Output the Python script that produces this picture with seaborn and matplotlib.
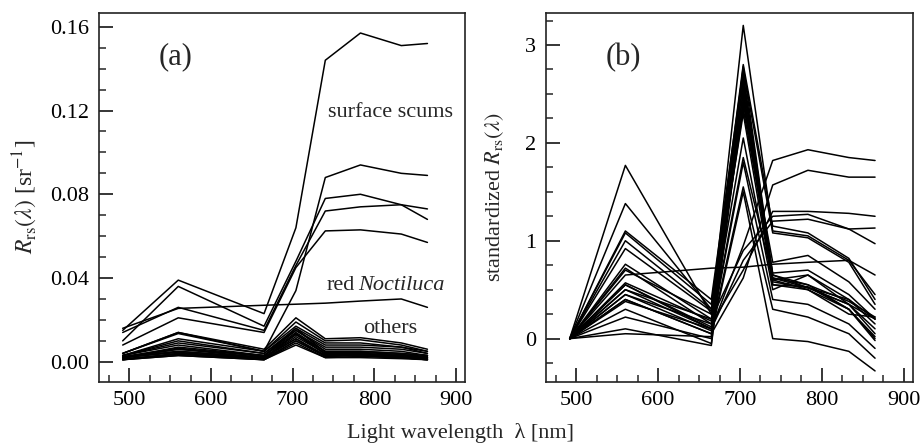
import numpy as np
import pandas as pd
import matplotlib
matplotlib.use("Agg")
import matplotlib.pyplot as plt
from matplotlib.ticker import MultipleLocator, FormatStrFormatter
import seaborn as sns

# ---------------- data ----------------
wavelengths = [492, 560, 665, 704, 740, 783, 833, 865]

# panel (a): Rrs [sr^-1]
scum_1 = [0.015, 0.039, 0.023, 0.064, 0.144, 0.157, 0.151, 0.152]
scum_2 = [0.010, 0.036, 0.017, 0.048, 0.078, 0.080, 0.075, 0.068]
scum_3 = [0.014, 0.026, 0.015, 0.046, 0.072, 0.074, 0.075, 0.073]
scum_4 = [0.008, 0.021, 0.014, 0.045, 0.0625, 0.063, 0.061, 0.057]
scum_5 = [0.004, 0.014, 0.005, 0.034, 0.088, 0.094, 0.090, 0.089]
noctiluca = [0.016, 0.0255, 0.027, 0.0275, 0.028, 0.029, 0.030, 0.026]
others_a = [
    [0.004, 0.014, 0.006, 0.021, 0.011, 0.0115, 0.009, 0.006],
    [0.004, 0.0135, 0.005, 0.019, 0.010, 0.0105, 0.008, 0.005],
    [0.003, 0.011, 0.005, 0.017, 0.009, 0.009, 0.007, 0.005],
    [0.003, 0.010, 0.004, 0.016, 0.008, 0.008, 0.007, 0.004],
    [0.003, 0.009, 0.004, 0.015, 0.007, 0.007, 0.006, 0.004],
    [0.003, 0.008, 0.003, 0.015, 0.006, 0.006, 0.005, 0.003],
    [0.002, 0.007, 0.003, 0.014, 0.005, 0.005, 0.004, 0.003],
    [0.002, 0.006, 0.003, 0.013, 0.005, 0.005, 0.004, 0.003],
    [0.002, 0.006, 0.002, 0.013, 0.004, 0.004, 0.003, 0.002],
    [0.002, 0.005, 0.002, 0.012, 0.004, 0.004, 0.003, 0.002],
    [0.002, 0.005, 0.002, 0.011, 0.003, 0.0035, 0.003, 0.002],
    [0.001, 0.004, 0.002, 0.011, 0.003, 0.003, 0.002, 0.0015],
    [0.001, 0.004, 0.001, 0.010, 0.003, 0.003, 0.002, 0.001],
    [0.001, 0.003, 0.001, 0.009, 0.002, 0.0025, 0.002, 0.001],
    [0.001, 0.003, 0.001, 0.008, 0.002, 0.002, 0.0015, 0.001],
    [0.002, 0.0045, 0.0015, 0.0135, 0.0035, 0.0035, 0.0025, 0.0015],
    [0.0025, 0.0065, 0.0025, 0.016, 0.0045, 0.0045, 0.0035, 0.0025],
    [0.0015, 0.0035, 0.0015, 0.010, 0.0025, 0.003, 0.002, 0.001],
]

# panel (b): standardized Rrs
std_scum = [
    [0, 0.55, 0.10, 0.95, 1.82, 1.93, 1.85, 1.82],
    [0, 0.40, 0.05, 0.62, 1.57, 1.72, 1.65, 1.65],
    [0, 0.45, 0.15, 0.70, 1.30, 1.30, 1.28, 1.25],
    [0, 0.38, 0.10, 0.80, 1.20, 1.22, 1.12, 1.13],
    [0, 0.50, 0.20, 0.90, 1.25, 1.27, 1.12, 0.97],
]
std_noctiluca = [0, 0.65, 0.72, 0.73, 0.76, 0.78, 0.80, 0.65]
std_others = [
    [0, 1.77, 0.25, 3.20, 1.10, 1.05, 0.80, 0.45],
    [0, 1.38, 0.30, 2.80, 1.15, 1.08, 0.82, 0.40],
    [0, 1.10, 0.40, 2.75, 1.08, 1.03, 0.78, 0.35],
    [0, 1.08, 0.35, 2.70, 0.65, 0.55, 0.38, 0.22],
    [0, 1.00, 0.30, 2.60, 0.62, 0.52, 0.40, 0.20],
    [0, 0.92, 0.28, 2.50, 0.60, 0.65, 0.35, 0.10],
    [0, 0.76, 0.20, 2.40, 0.78, 0.85, 0.58, 0.30],
    [0, 0.72, 0.15, 2.35, 0.67, 0.70, 0.45, 0.20],
    [0, 0.70, 0.25, 2.30, 0.55, 0.53, 0.30, 0.02],
    [0, 0.57, 0.18, 2.05, 0.50, 0.65, 0.40, 0.15],
    [0, 0.55, 0.12, 1.85, 0.62, 0.55, 0.30, 0.00],
    [0, 0.50, 0.10, 1.80, 0.40, 0.35, 0.15, -0.10],
    [0, 0.45, 0.08, 1.55, 0.30, 0.22, 0.05, -0.20],
    [0, 0.40, 0.05, 1.50, 0.00, -0.03, -0.13, -0.33],
    [0, 0.30, -0.05, 2.45, 0.58, 0.52, 0.35, 0.05],
    [0, 0.22, 0.00, 2.65, 0.60, 0.50, 0.30, -0.02],
    [0, 0.10, -0.07, 2.55, 0.55, 0.50, 0.25, 0.22],
    [0, 0.05, 0.02, 2.78, 0.65, 0.52, 0.35, 0.20],
]


def long_form(series_list):
    rows = []
    for i, s in enumerate(series_list):
        for w, v in zip(wavelengths, s):
            rows.append({"wl": w, "val": v, "sample": i})
    return pd.DataFrame(rows)


df_a = long_form([scum_1, scum_2, scum_3, scum_4, scum_5, noctiluca] + others_a)
df_b = long_form(std_scum + [std_noctiluca] + std_others)

# ---------------- style ----------------
sns.set_style("ticks")
plt.rcParams["font.family"] = ["Liberation Serif", "DejaVu Serif"]
plt.rcParams["mathtext.fontset"] = "stix"
plt.rcParams["axes.linewidth"] = 1.2
plt.rcParams["xtick.direction"] = "in"
plt.rcParams["ytick.direction"] = "in"
plt.rcParams["xtick.top"] = False
plt.rcParams["ytick.right"] = False

fig = plt.figure(figsize=(9.21, 4.46), dpi=100)
ax_a = fig.add_axes([0.1075, 0.1442, 0.3974, 0.8273])
ax_b = fig.add_axes([0.5928, 0.1442, 0.3982, 0.8273])

for ax, df in ((ax_a, df_a), (ax_b, df_b)):
    sns.lineplot(data=df, x="wl", y="val", units="sample", estimator=None,
                 color="black", lw=1.1, sort=False, ax=ax, legend=False)
    ax.set_xlim(463, 911)
    ax.xaxis.set_major_locator(MultipleLocator(100))
    ax.xaxis.set_minor_locator(MultipleLocator(25))
    ax.tick_params(axis="both", which="major", direction="in", length=10,
                   width=1.1, pad=7, labelsize=16, colors="black")
    ax.tick_params(axis="both", which="minor", direction="in", length=5,
                   width=1.1)
    ax.set_xlabel("")
    for sp in ax.spines.values():
        sp.set_visible(True)
        sp.set_color("#222222")
        sp.set_linewidth(1.2)

ax_a.set_ylim(-0.0095, 0.1667)
ax_a.yaxis.set_major_locator(MultipleLocator(0.04))
ax_a.yaxis.set_minor_locator(MultipleLocator(0.01))
ax_a.yaxis.set_major_formatter(FormatStrFormatter("%.2f"))
ax_a.set_ylabel(r"$R_{\rm rs}(\lambda)$ [sr$^{-1}$]", fontsize=17, labelpad=8)

ax_b.set_ylim(-0.44, 3.33)
ax_b.yaxis.set_major_locator(MultipleLocator(1))
ax_b.yaxis.set_minor_locator(MultipleLocator(0.25))
ax_b.set_ylabel(r"standardized $R_{\rm rs}(\lambda)$", fontsize=16, labelpad=14)

ax_a.text(557, 0.1455, "(a)", fontsize=22, ha="center", va="center")
ax_b.text(557, 2.87, "(b)", fontsize=22, ha="center", va="center")
ax_a.text(820, 0.119, "surface scums", fontsize=16, ha="center", va="center")
ax_a.text(741, 0.0366, "red", fontsize=16, ha="left", va="center")
ax_a.text(780, 0.0366, "Noctiluca", fontsize=16, ha="left", va="center",
          style="italic")
ax_a.text(820, 0.016, "others", fontsize=16, ha="center", va="center")

fig.text(0.5, 0.03, "Light wavelength  λ [nm]", fontsize=16,
         ha="center", va="center")

fig.savefig("out.png", dpi=100)
